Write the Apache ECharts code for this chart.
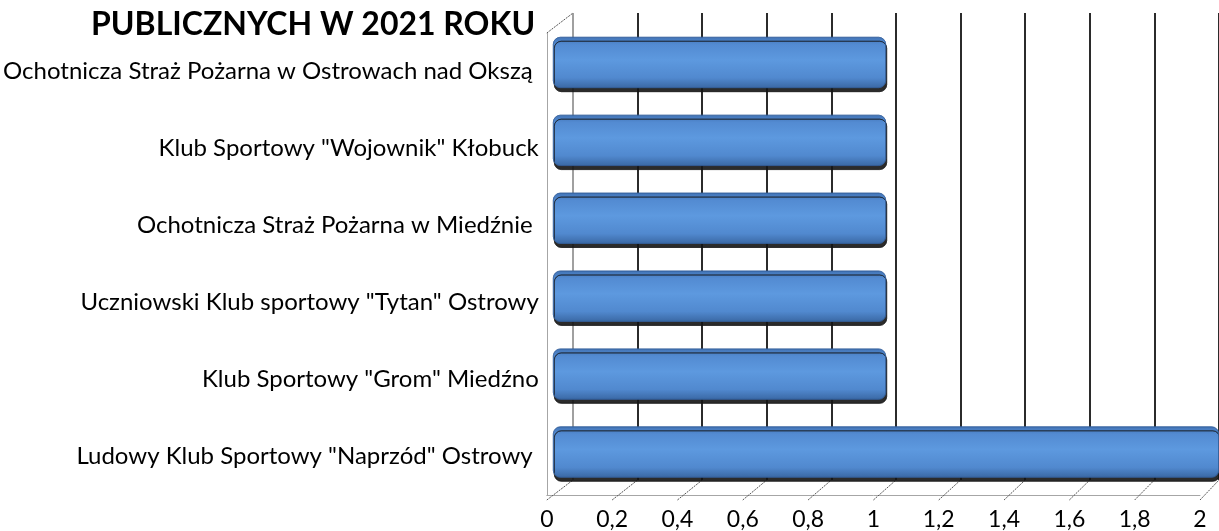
<!DOCTYPE html>
<html>
<head>
<meta charset="utf-8">
<script src="https://cdn.jsdelivr.net/npm/echarts@6/dist/echarts.min.js"></script>
<style>
  html, body { margin: 0; padding: 0; background: #fff; }
  #chart { width: 1219px; height: 531px; }
</style>
</head>
<body>
<div id="chart"></div>
<script>
var categories = [
    'Ochotnicza Straż Pożarna w Ostrowach nad Okszą ',
    'Klub Sportowy "Wojownik" Kłobuck',
    'Ochotnicza Straż Pożarna w Miedźnie ',
    'Uczniowski Klub sportowy "Tytan" Ostrowy',
    'Klub Sportowy "Grom" Miedźno',
    'Ludowy Klub Sportowy "Naprzód" Ostrowy '
];
var values = [1, 1, 1, 1, 1, 2];
var titleText = 'PUBLICZNYCH W 2021 ROKU';

var font = 'Lato, "Liberation Sans", sans-serif';
var dom = document.getElementById('chart');
var myChart = echarts.init(dom);

var gridColors = ['#a0a0a0'];
for (var i = 0; i < 10; i++) gridColors.push('#2b2b2b');

var option = {
    backgroundColor: '#ffffff',
    animation: false,
    title: {
        text: titleText,
        left: 86,
        top: 4,
        textStyle: { fontFamily: font, fontSize: 32, fontWeight: 'bold', color: '#000' }
    },
    grid: [
        // front: axis labels and floor edge
        { left: 545, width: 655, top: 33, bottom: 31 },
        // back wall: gridlines
        { left: 573, width: 655, top: 13, bottom: 51 },
        // bars, in the middle of the depth
        { left: 553, width: 679, top: 23.5, bottom: 40 }
    ],
    xAxis: [
        {
            gridIndex: 0, type: 'value', min: 0, max: 2, interval: 0.2,
            axisLine: { show: true, lineStyle: { color: '#a6a6a6', width: 1 } },
            axisTick: { show: false },
            splitLine: { show: false },
            axisLabel: {
                margin: 13, color: '#000', fontFamily: font, fontSize: 23,
                formatter: function (v) { return String(Math.round(v * 10) / 10).replace('.', ','); }
            }
        },
        {
            gridIndex: 1, type: 'value', min: 0, max: 2, interval: 0.2,
            axisLine: { show: false }, axisTick: { show: false }, axisLabel: { show: false },
            splitLine: { show: true, lineStyle: { color: gridColors, width: 2 } }
        },
        {
            gridIndex: 2, type: 'value', min: 0, max: 2, show: false
        }
    ],
    yAxis: [
        {
            gridIndex: 0, type: 'category', inverse: true, data: categories,
            axisLine: { show: true, lineStyle: { color: '#a6a6a6', width: 1 } },
            axisTick: { show: false },
            axisLabel: { margin: 8, color: '#000', fontFamily: font, fontSize: 24 }
        },
        {
            gridIndex: 1, type: 'category', inverse: true, data: categories, show: false
        },
        {
            gridIndex: 2, type: 'category', inverse: true, data: categories, show: false
        }
    ],
    series: [
        {
            type: 'bar',
            xAxisIndex: 2,
            yAxisIndex: 2,
            barWidth: 51,
            data: values,
            itemStyle: {
                borderRadius: 7,
                color: new echarts.graphic.LinearGradient(0, 0, 0, 1, [
                    { offset: 0, color: '#4274b6' },
                    { offset: 0.15, color: '#538bd2' },
                    { offset: 0.45, color: '#5d99df' },
                    { offset: 0.8, color: '#5189cf' },
                    { offset: 1, color: '#3a68a4' }
                ]),
                borderColor: '#34609c',
                borderWidth: 0.6,
                shadowColor: 'rgba(20,20,20,0.9)',
                shadowOffsetY: 4,
                shadowOffsetX: 1,
                shadowBlur: 0
            }
        }
    ]
};

myChart.setOption(option);

// perspective edges: floor ticks from front axis to back wall, top edge of side wall
var extra = [];
for (var k = 0; k <= 10; k++) {
    var v = k * 0.2;
    var xf = myChart.convertToPixel({ xAxisIndex: 0 }, v);
    var xb = myChart.convertToPixel({ xAxisIndex: 1 }, v);
    extra.push({
        type: 'line', silent: true, z: 1,
        shape: { x1: xf, y1: 500, x2: xb, y2: 480 },
        style: { stroke: '#555', lineWidth: 1, lineDash: [2, 1] }
    });
}
var x0f = myChart.convertToPixel({ xAxisIndex: 0 }, 0);
var x0b = myChart.convertToPixel({ xAxisIndex: 1 }, 0);
extra.push({
    type: 'line', silent: true, z: 1,
    shape: { x1: x0f, y1: 33, x2: x0b, y2: 13 },
    style: { stroke: '#555', lineWidth: 1, lineDash: [2, 1] }
});
myChart.setOption({ graphic: extra });
</script>
</body>
</html>
